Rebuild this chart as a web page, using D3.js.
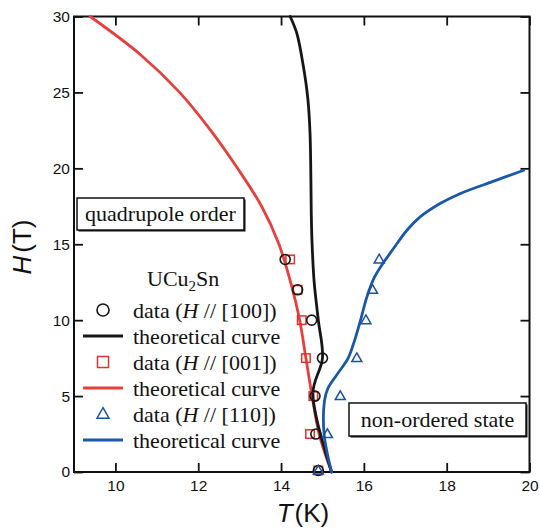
<!DOCTYPE html>
<html>
<head>
<meta charset="utf-8">
<script src="https://cdn.jsdelivr.net/npm/d3@7"></script>
<style>
  html, body { margin: 0; padding: 0; background: #ffffff; }
  svg { display: block; }
</style>
</head>
<body>
<svg id="chart" width="540" height="529"></svg>
<script>
// UCu2Sn H–T phase diagram: measured transition points and theoretical phase boundaries

// axis ticks
const xTicks = [10, 12, 14, 16, 18, 20];
const yTicks = [0, 5, 10, 15, 20, 25, 30];

// measured points [T (K), H (T)]
const data100 = [[14.1, 14], [14.4, 12], [14.74, 10], [15.0, 7.5], [14.82, 5], [14.84, 2.5], [14.9, 0.1]];
const data001 = [[14.22, 14], [14.4, 12], [14.5, 10], [14.6, 7.5], [14.78, 5], [14.7, 2.5], [14.9, 0.1]];
const data110 = [[16.37, 14], [16.21, 12], [16.05, 10], [15.83, 7.5], [15.43, 5], [15.12, 2.5], [14.9, 0.1]];

// theoretical curves [T (K), H (T)], ordered by field
const curve100 = [[14.22, 30], [14.38, 28.9], [14.54, 26.7], [14.65, 24.5], [14.7, 22.3], [14.72, 19.5],
                  [14.73, 17], [14.75, 15], [14.8, 12.5], [14.9, 10], [15.0, 7.5], [14.77, 5.2], [15.22, 0]];
const curve001 = [[9.39, 30], [10.6, 27.5], [11.55, 25], [12.3, 22.5], [12.95, 20], [13.53, 17.5],
                  [13.95, 15], [14.23, 12.5], [14.45, 10], [14.6, 7.5], [14.75, 5], [14.92, 2.5], [15.22, 0]];
const curve110 = [[15.22, 0], [15.04, 2.5], [15.05, 4.7], [15.13, 5.5], [15.36, 6.45], [15.62, 7.5],
                  [15.78, 8.7], [15.92, 10], [16.07, 11.5], [16.25, 12.8], [16.45, 13.7], [16.58, 14.2],
                  [16.75, 14.85], [17.04, 15.92], [17.36, 16.8], [17.84, 17.68], [18.32, 18.33],
                  [19.12, 19.14], [19.86, 19.87]];

const colBlack = "#161616", colRed = "#e5403d", colBlue = "#1a59a8";
const serif = "'Liberation Serif', 'Times New Roman', serif";
const sans = "'Liberation Sans', Arial, Helvetica, sans-serif";

const svg = d3.select("#chart");
const L = 74, R = 529.5, T = 16.5, B = 472;

const x = d3.scaleLinear().domain([9, 20]).range([L, R]);
const y = d3.scaleLinear().domain([0, 30]).range([B, T]);

// axes: inward ticks on all four sides, labels on bottom and left
const styleAxis = g => {
  g.select(".domain").remove();
  g.selectAll(".tick line").attr("stroke", "#111").attr("stroke-width", 1.8);
  g.selectAll(".tick text").attr("fill", "#111").style("font-family", sans).style("font-size", "15.5px");
};
svg.append("g").attr("transform", `translate(0,${B})`)
  .call(d3.axisBottom(x).tickValues(xTicks).tickSize(-9).tickPadding(8).tickFormat(d3.format("d")))
  .call(styleAxis);
svg.append("g").attr("transform", `translate(0,${T})`)
  .call(d3.axisTop(x).tickValues(xTicks).tickSize(-9).tickFormat(""))
  .call(styleAxis);
svg.append("g").attr("transform", `translate(${L},0)`)
  .call(d3.axisLeft(y).tickValues(yTicks).tickSize(-9).tickPadding(4).tickFormat(d3.format("d")))
  .call(styleAxis);
svg.append("g").attr("transform", `translate(${R},0)`)
  .call(d3.axisRight(y).tickValues(yTicks).tickSize(-9).tickFormat(""))
  .call(styleAxis);

// plot frame
svg.append("rect").attr("x", L).attr("y", T).attr("width", R - L).attr("height", B - T)
  .attr("fill", "none").attr("stroke", "#111").attr("stroke-width", 2);

// axis titles
svg.append("text").attr("x", 303).attr("y", 522).attr("text-anchor", "middle")
  .style("font-family", sans).style("font-size", "26px").attr("fill", "#111")
  .call(t => {
    t.append("tspan").style("font-style", "italic").text("T");
    t.append("tspan").attr("dx", 2).text("(K)");
  });
svg.append("text").attr("transform", "translate(31,247) rotate(-90)").attr("text-anchor", "middle")
  .style("font-family", sans).style("font-size", "26px").attr("fill", "#111")
  .call(t => {
    t.append("tspan").style("font-style", "italic").text("H");
    t.append("tspan").attr("dx", 3).text("(T)");
  });

// region labels in framed boxes
function framedLabel(bx, by, bw, bh, label, baseline) {
  const g = svg.append("g");
  g.append("rect").attr("x", bx + 1.5).attr("y", by + 1.5).attr("width", bw).attr("height", bh).attr("fill", "#111");
  g.append("rect").attr("x", bx).attr("y", by).attr("width", bw).attr("height", bh)
    .attr("fill", "#fff").attr("stroke", "#111").attr("stroke-width", 1.5);
  g.append("text").attr("x", bx + bw / 2).attr("y", baseline).attr("text-anchor", "middle")
    .style("font-family", serif).style("font-size", "22px").attr("fill", "#111").text(label);
}
framedLabel(77, 198, 167, 32, "quadrupole order", 221);
framedLabel(349, 403, 177, 33, "non-ordered state", 427);

// theoretical curves
const line = d3.line().x(d => x(d[0])).y(d => y(d[1])).curve(d3.curveCatmullRom.alpha(0.5));
const curves = [[curve001, colRed], [curve100, colBlack], [curve110, colBlue]];
curves.forEach(([pts, c]) => {
  svg.append("path").datum(pts).attr("d", line)
    .attr("fill", "none").attr("stroke", c).attr("stroke-width", 2.8)
    .attr("stroke-linejoin", "round").attr("stroke-linecap", "round");
});

// marker shapes
const drawCircle = (g, cx, cy, r) => g.append("circle").attr("cx", cx).attr("cy", cy).attr("r", r)
  .attr("fill", "none").attr("stroke", colBlack).attr("stroke-width", 1.6);
const drawSquare = (g, cx, cy, s) => g.append("rect").attr("x", cx - s / 2).attr("y", cy - s / 2)
  .attr("width", s).attr("height", s).attr("fill", "none").attr("stroke", "#e0322f").attr("stroke-width", 1.5);
const drawTriangle = (g, cx, cy, s) => {
  const h = s * 0.87;
  g.append("path").attr("d", `M${cx},${cy - h * 0.6}L${cx + s / 2},${cy + h * 0.4}L${cx - s / 2},${cy + h * 0.4}Z`)
    .attr("fill", "none").attr("stroke", "#1c52a0").attr("stroke-width", 1.5).attr("stroke-linejoin", "miter");
};

const pts = svg.append("g");
data001.forEach(d => drawSquare(pts, x(d[0]), y(d[1]), 8.5));
data100.forEach(d => drawCircle(pts, x(d[0]), y(d[1]), 5));
data110.forEach(d => drawTriangle(pts, x(d[0]), y(d[1]), 10));

// legend
const leg = svg.append("g");
leg.append("text").attr("x", 147).attr("y", 286)
  .style("font-family", serif).style("font-size", "22px").attr("fill", "#111")
  .call(t => {
    t.append("tspan").text("UCu");
    t.append("tspan").attr("dy", 5).style("font-size", "15px").text("2");
    t.append("tspan").attr("dy", -5).text("Sn");
  });

const rows = [
  { kind: "circle", dir: "100" },
  { kind: "line", color: colBlack },
  { kind: "square", dir: "001" },
  { kind: "line", color: colRed },
  { kind: "triangle", dir: "110" },
  { kind: "line", color: colBlue }
];
rows.forEach((r, i) => {
  const cy = 310 + i * 26;
  if (r.kind === "line") {
    leg.append("line").attr("x1", 83).attr("x2", 123).attr("y1", cy).attr("y2", cy)
      .attr("stroke", r.color).attr("stroke-width", 3);
  } else if (r.kind === "circle") {
    drawCircle(leg, 103, cy, 6);
  } else if (r.kind === "square") {
    drawSquare(leg, 103, cy, 11);
  } else {
    drawTriangle(leg, 103, cy, 12);
  }
  const t = leg.append("text").attr("x", 133).attr("y", cy + 8)
    .style("font-family", serif).style("font-size", "22px").attr("fill", "#111");
  if (r.kind === "line") {
    t.text("theoretical curve");
  } else {
    t.append("tspan").text("data (");
    t.append("tspan").style("font-style", "italic").text("H");
    t.append("tspan").text(` // [${r.dir}])`);
  }
});
</script>
</body>
</html>
